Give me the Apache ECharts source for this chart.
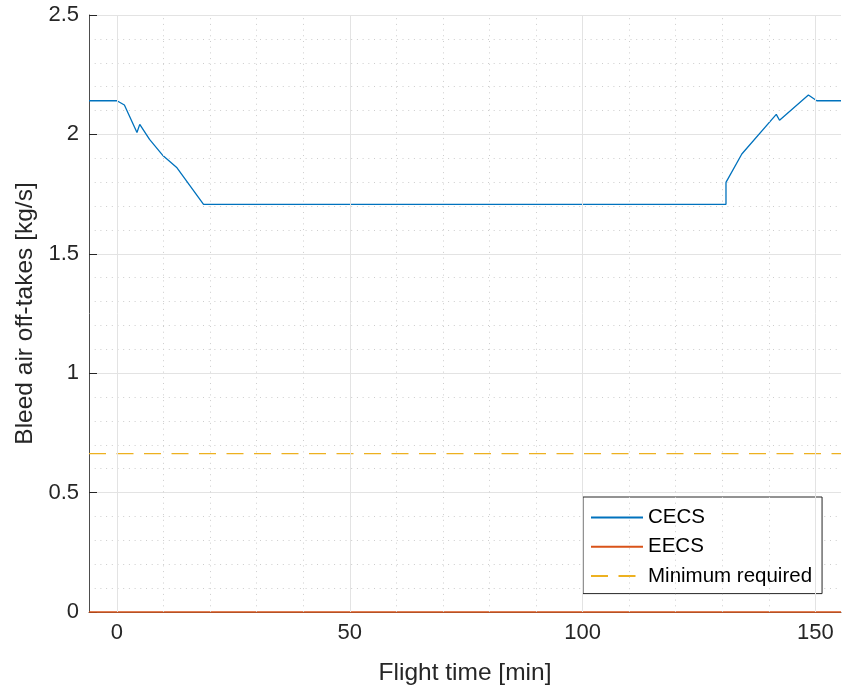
<!DOCTYPE html>
<html>
<head>
<meta charset="utf-8">
<script src="https://cdn.jsdelivr.net/npm/echarts@6/dist/echarts.min.js"></script>
<style>
html,body{margin:0;padding:0;background:#fff;}
#chart{width:842px;height:693px;}
</style>
</head>
<body>
<div id="chart"></div>
<script>
// ---- data ----
const cecsX = [-6, 0.0, 1.6, 4.3, 4.9, 7.0, 9.8, 12.9, 18.6, 130.8, 130.8, 134.2, 141.6, 142.3, 148.5, 150.3, 155.5];
const cecsY = [2.141, 2.141, 2.123, 2.008, 2.042, 1.979, 1.913, 1.860, 1.707, 1.707, 1.799, 1.918, 2.084, 2.059, 2.165, 2.141, 2.141];
const eecsX = [-6, 155.5];
const eecsY = [0, 0];
const minReqX = [-6, 155.5];
const minReqY = [0.663, 0.663];
const xTicks = [0, 50, 100, 150];
const xMinorGrid = [10, 20, 30, 40, 60, 70, 80, 90, 110, 120, 130, 140];
const seriesNames = ['CECS', 'EECS', 'Minimum required'];

const zip = (xs, ys) => xs.map((x, i) => [x, ys[i]]);
const FONT = 'Liberation Sans, Arial, Helvetica, sans-serif';
const TXT = '#262626';
const AX = '#4d4d4d';
const GRID = '#e3e3e3';
const MINOR = '#cdcdcd';
const DOT = [1, 4.7];

const chart = echarts.init(document.getElementById('chart'), null, {renderer: 'canvas'});
chart.setOption({
  animation: false,
  backgroundColor: '#ffffff',
  textStyle: {fontFamily: FONT, color: TXT},
  grid: {left: 89, right: 1, top: 15, bottom: 81, containLabel: false},
  xAxis: {
    type: 'value', min: -6, max: 155.5,
    name: 'Flight time [min]', nameLocation: 'middle', nameGap: 49,
    nameTextStyle: {fontSize: 24.5, color: TXT, fontFamily: FONT},
    axisLine: {show: true, onZero: false, lineStyle: {color: AX, width: 1}},
    axisTick: {show: true, inside: true, length: 8, customValues: xTicks, lineStyle: {color: TXT}},
    axisLabel: {customValues: xTicks, fontSize: 22, color: TXT, fontFamily: FONT, margin: 10},
    splitLine: {show: false},
    minorSplitLine: {show: false}
  },
  yAxis: {
    type: 'value', min: 0, max: 2.5, interval: 0.5,
    name: 'Bleed air off-takes [kg/s]', nameLocation: 'middle', nameGap: 50,
    nameTextStyle: {fontSize: 24.5, color: TXT, fontFamily: FONT},
    axisLine: {show: true, onZero: false, lineStyle: {color: AX, width: 1}},
    axisTick: {show: true, inside: true, length: 8, lineStyle: {color: TXT}},
    axisLabel: {fontSize: 22, color: TXT, fontFamily: FONT, margin: 10},
    splitLine: {show: true, lineStyle: {color: GRID, width: 1}},
    minorTick: {show: false, splitNumber: 5},
    minorSplitLine: {show: true, lineStyle: {color: MINOR, width: 1, type: DOT}}
  },
  legend: {
    data: seriesNames,
    orient: 'vertical', left: 583, top: 497,
    padding: [10, 10, 7, 7],
    itemWidth: 52, itemHeight: 20, itemGap: 8.3, itemTextGap: 6,
    borderColor: TXT, borderWidth: 1, backgroundColor: '#ffffff',
    textStyle: {fontSize: 20.5, color: '#000', fontFamily: FONT},
    itemStyle: {opacity: 0},
    selectedMode: false
  },
  series: [
    {
      name: '_gridMajor', type: 'line', data: [], z: 1, silent: true,
      markLine: {
        silent: true, symbol: ['none', 'none'], label: {show: false},
        lineStyle: {color: GRID, width: 1, type: 'solid'},
        emphasis: {disabled: true},
        data: xTicks.map(v => ({xAxis: v}))
      }
    },
    {
      name: '_gridMinor', type: 'line', data: [], z: 1, silent: true,
      markLine: {
        silent: true, symbol: ['none', 'none'], label: {show: false},
        lineStyle: {color: MINOR, width: 1, type: DOT},
        emphasis: {disabled: true},
        data: xMinorGrid.map(v => ({xAxis: v}))
      }
    },
    {
      name: seriesNames[0], type: 'line', data: zip(cecsX, cecsY), z: 3,
      symbol: 'none', color: '#0072BD', lineStyle: {width: 1.3, color: '#0072BD'}
    },
    {
      name: seriesNames[1], type: 'line', data: zip(eecsX, eecsY), z: 4,
      symbol: 'none', color: '#D95319', lineStyle: {width: 1.6, color: '#D95319'}, clip: false
    },
    {
      name: seriesNames[2], type: 'line', data: zip(minReqX, minReqY), z: 3,
      symbol: 'none', color: '#EDB120', lineStyle: {width: 1.3, color: '#EDB120', type: [17, 10.5]}
    }
  ]
});
</script>
</body>
</html>
